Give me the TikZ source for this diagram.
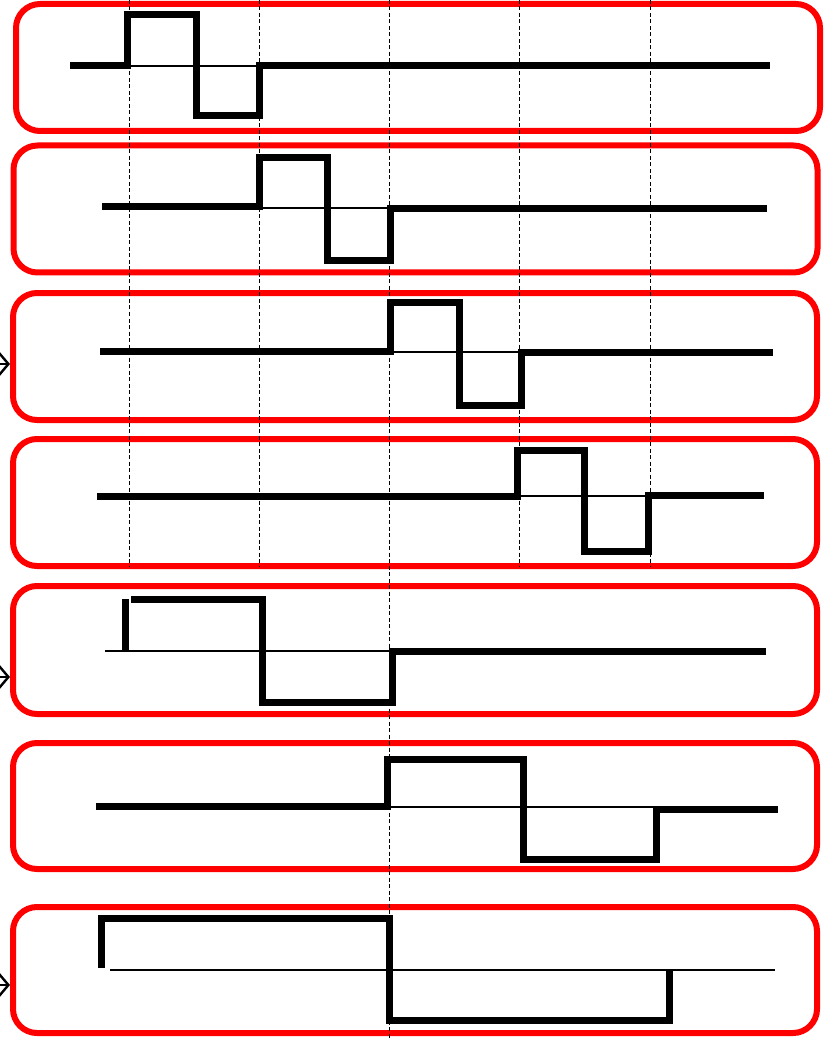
\documentclass[tikz,border=0pt]{standalone}
\usetikzlibrary{arrows.meta}

\begin{document}
\begin{tikzpicture}[
    x=1pt, y=-1pt,
    frame/.style={draw=red, line width=6pt, rounded corners=24pt, minimum width=804pt,
                  minimum height=127pt, inner sep=0pt, outer sep=0pt},
    guide/.style={black, line width=0.9pt, dash pattern=on 4pt off 2.5pt},
    pulse/.style={black, line width=7pt, line join=miter},
    axis/.style={black, line width=1.8pt},
    feed/.style={black, line width=2.4pt, shorten >=3pt, -{Straight Barb[length=11pt,width=26pt]}},
  ]
    \useasboundingbox (0,0) rectangle (826,1040);

    % frames
    \node[frame] (p1) at (418,67.5) {};
    \node[frame] (p2) at (415.5,209) {};
    \node[frame] (p3) at (415,356.5) {};
    \node[frame] (p4) at (415,502.5) {};
    \node[frame, minimum height=128pt] (p5) at (415,650) {};
    \node[frame, minimum height=126pt] (p6) at (415,806) {};
    \node[frame, minimum height=126pt] (p7) at (415,970) {};

    % incoming arrows, cut at the left edge
    \coordinate (i3) at (-30,364);
    \coordinate (i5) at (-30,677);
    \coordinate (i7) at (-30,985);
    \foreach \c/\b in {i3/p3, i5/p5, i7/p7} \draw[feed] (\c) -- (\c -| \b.west);

    % time markers
    \foreach \t in {129,259,519,650} \draw[guide] (\t,0) -- (\t,566);
    \draw[guide] (389,0) -- (389,1040);

    % row 1
    \draw[axis] (127,66) -- (259,66);
    \draw[pulse] (70,66) -- (127,66) -- (127,15) -- (196,15) -- (196,116) -- (259,116) -- (259,66) -- (770,66);
    % row 2
    \draw[axis] (259,208) -- (390,208);
    \draw[pulse] (102,207) -- (259,207) -- (259,158) -- (327,158) -- (327,261) -- (390,261) -- (390,209) -- (767,209);
    % row 3
    \draw[axis] (390,352) -- (521,352);
    \draw[pulse] (100,351) -- (390,351) -- (390,302) -- (459,302) -- (459,405) -- (521,405) -- (521,352) -- (773,352);
    % row 4
    \draw[axis] (517,496) -- (648,496);
    \draw[pulse] (97,496) -- (517,496) -- (517,450) -- (584,450) -- (584,551) -- (648,551) -- (648,495) -- (764,495);
    % row 5
    \draw[axis] (105,651) -- (392,651);
    \draw[pulse] (125,651) -- (125,599);
    \draw[pulse] (131,599) -- (262,599) -- (262,702) -- (392,702) -- (392,651) -- (766,651);
    % row 6
    \draw[axis] (387,807) -- (656,807);
    \draw[pulse] (96,806) -- (387,806) -- (387,759) -- (523,759) -- (523,859) -- (656,859) -- (656,809) -- (778,809);
    % row 7
    \draw[axis] (110,970) -- (775,970);
    \draw[pulse] (101,968) -- (101,918) -- (389,918) -- (389,1020) -- (669,1020) -- (669,970);
  \end{tikzpicture}
\end{document}
